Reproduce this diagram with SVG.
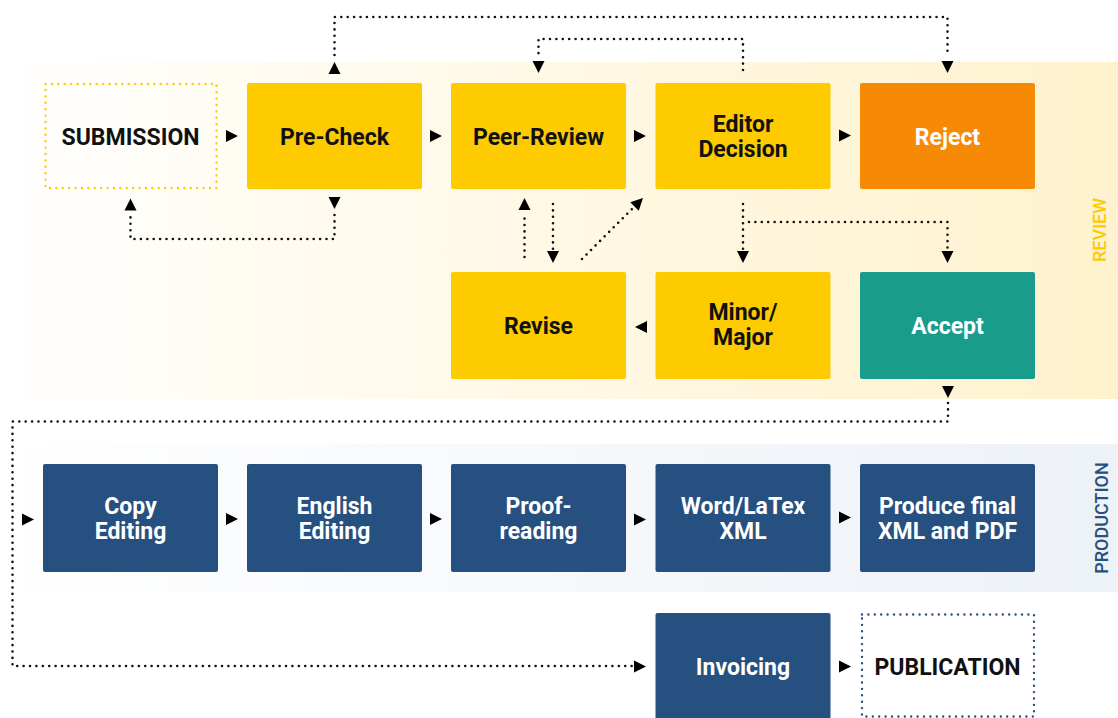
<svg xmlns="http://www.w3.org/2000/svg" xmlns:xlink="http://www.w3.org/1999/xlink" width="1118" height="718" viewBox="0 0 1118 718">
<style>
.t{font-family:Roboto,"Noto Sans","Liberation Sans",sans-serif;font-size:23px;font-weight:700;text-anchor:middle}
.dk{fill:#111}
.wh{fill:#fff}
.y{fill:#FDCB00}
.o{fill:#F78A04}
.g{fill:#199C8C}
.n{fill:#26507F}
.dot{fill:none;stroke:#111;stroke-width:2.6;stroke-dasharray:0 6.4;stroke-linecap:round}
.side{font-family:Roboto,"Noto Sans","Liberation Sans",sans-serif;font-size:18px;font-weight:500;text-anchor:middle}
</style>
<defs>
<linearGradient id="gR" x1="0" y1="0" x2="1" y2="0">
<stop offset="0" stop-color="#FFFFFF"/>
<stop offset="0.5" stop-color="#FFF8E4"/>
<stop offset="1" stop-color="#FEF2CE"/>
</linearGradient>
<linearGradient id="gP" x1="0" y1="0" x2="1" y2="0">
<stop offset="0" stop-color="#FFFFFF"/>
<stop offset="0.5" stop-color="#F6F8FB"/>
<stop offset="1" stop-color="#EDF2F7"/>
</linearGradient>
<path id="tri" d="M-12,-6 L0,0 L-12,6 Z" fill="#000"/>
</defs>
<rect id="band-review" x="0" y="62" width="1118" height="337" fill="url(#gR)"/>
<rect id="band-production" x="0" y="444" width="1118" height="148" fill="url(#gP)"/>
<text class="side y" transform="translate(1106,230) rotate(-90)">REVIEW</text>
<text class="side n" transform="translate(1108,518) rotate(-90)">PRODUCTION</text>

<g id="submission"><rect x="45.5" y="84" width="171" height="104" fill="none" stroke="#FDCB00" stroke-width="2.4" stroke-dasharray="0 6.4" stroke-linecap="round"/><text class="t dk" x="130.5" y="144.5">SUBMISSION</text></g>
<g id="precheck"><rect class="y" x="247" y="83" width="175" height="106" rx="2"/><text class="t dk" x="334.5" y="144.5">Pre-Check</text></g>
<g id="peerreview"><rect class="y" x="451" y="83" width="175" height="106" rx="2"/><text class="t dk" x="538.5" y="144.5">Peer-Review</text></g>
<g id="editor"><rect class="y" x="655.5" y="83" width="175" height="106" rx="2"/><text class="t dk" x="743" y="132">Editor</text><text class="t dk" x="743" y="157">Decision</text></g>
<g id="reject"><rect class="o" x="860" y="83" width="175" height="106" rx="2"/><text class="t wh" x="947.5" y="144.5">Reject</text></g>
<g id="revise"><rect class="y" x="451" y="272" width="175" height="107" rx="2"/><text class="t dk" x="538.5" y="334">Revise</text></g>
<g id="minormajor"><rect class="y" x="655.5" y="272" width="175" height="107" rx="2"/><text class="t dk" x="743" y="320">Minor/</text><text class="t dk" x="743" y="345">Major</text></g>
<g id="accept"><rect class="g" x="860" y="272" width="175" height="107" rx="2"/><text class="t wh" x="947.5" y="334">Accept</text></g>
<g id="copyediting"><rect class="n" x="43" y="464" width="175" height="108" rx="2"/><text class="t wh" x="130.5" y="514">Copy</text><text class="t wh" x="130.5" y="539">Editing</text></g>
<g id="englishediting"><rect class="n" x="247" y="464" width="175" height="108" rx="2"/><text class="t wh" x="334.5" y="514">English</text><text class="t wh" x="334.5" y="539">Editing</text></g>
<g id="proofreading"><rect class="n" x="451" y="464" width="175" height="108" rx="2"/><text class="t wh" x="538.5" y="514">Proof-</text><text class="t wh" x="538.5" y="539">reading</text></g>
<g id="wordlatex"><rect class="n" x="655.5" y="464" width="175" height="108" rx="2"/><text class="t wh" x="743" y="514">Word/LaTex</text><text class="t wh" x="743" y="539">XML</text></g>
<g id="producefinal"><rect class="n" x="860" y="464" width="175" height="108" rx="2"/><text class="t wh" x="947.5" y="514">Produce final</text><text class="t wh" x="947.5" y="539">XML and PDF</text></g>
<g id="invoicing"><rect class="n" x="655.5" y="613" width="175" height="110" rx="2"/><text class="t wh" x="743" y="675">Invoicing</text></g>
<g id="publication"><rect x="862" y="614.5" width="172" height="102" fill="none" stroke="#26507F" stroke-width="2.4" stroke-dasharray="0 6.4" stroke-linecap="round"/><text class="t dk" x="947.5" y="675">PUBLICATION</text></g>

<g id="connectors">
<path class="dot" d="M334.5,55 V17 H947.5 V55"/>
<path class="dot" d="M743,70 V39 H538.5 V55"/>
<path class="dot" d="M334.5,215 V239 H130.5 V216"/>
<path class="dot" d="M524.5,257 V213"/>
<path class="dot" d="M553,204 V251"/>
<path class="dot" d="M582,259 L632,209"/>
<path class="dot" d="M743,204 V251"/>
<path class="dot" d="M749,222 H947.5 V251"/>
<path class="dot" d="M948,403 V421.5 H12.5 V666 H633"/>
<use xlink:href="#tri" transform="translate(238,136)"/>
<use xlink:href="#tri" transform="translate(442,136)"/>
<use xlink:href="#tri" transform="translate(646,136)"/>
<use xlink:href="#tri" transform="translate(851,135.5)"/>
<use xlink:href="#tri" transform="translate(334.5,62) rotate(-90)"/>
<use xlink:href="#tri" transform="translate(947.5,73) rotate(90)"/>
<use xlink:href="#tri" transform="translate(538.5,73) rotate(90)"/>
<use xlink:href="#tri" transform="translate(334.5,209) rotate(90)"/>
<use xlink:href="#tri" transform="translate(130.5,198.5) rotate(-90)"/>
<use xlink:href="#tri" transform="translate(524.5,198) rotate(-90)"/>
<use xlink:href="#tri" transform="translate(553,263) rotate(90)"/>
<use xlink:href="#tri" transform="translate(643,198) rotate(-45)"/>
<use xlink:href="#tri" transform="translate(743,263) rotate(90)"/>
<use xlink:href="#tri" transform="translate(947.5,263) rotate(90)"/>
<use xlink:href="#tri" transform="translate(635,327) rotate(180)"/>
<use xlink:href="#tri" transform="translate(948,398) rotate(90)"/>
<use xlink:href="#tri" transform="translate(34,519.5)"/>
<use xlink:href="#tri" transform="translate(238,519)"/>
<use xlink:href="#tri" transform="translate(442,519)"/>
<use xlink:href="#tri" transform="translate(646,519.5)"/>
<use xlink:href="#tri" transform="translate(851,517.5)"/>
<use xlink:href="#tri" transform="translate(646,666.5)"/>
<use xlink:href="#tri" transform="translate(851,666.5)"/>
</g>
</svg>
